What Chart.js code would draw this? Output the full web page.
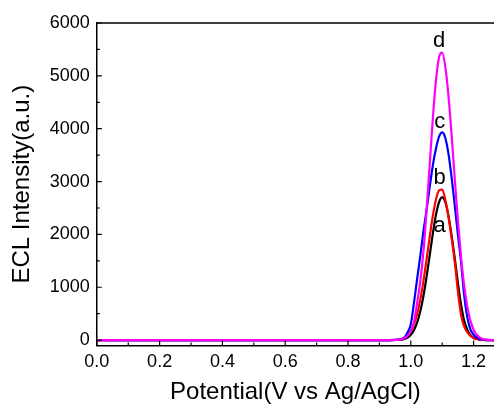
<!DOCTYPE html>
<html>
<head>
<meta charset="utf-8">
<script src="https://cdn.jsdelivr.net/npm/chart.js@4.4.0/dist/chart.umd.min.js"></script>
<style>
  html, body { margin: 0; padding: 0; background: #fff; }
</style>
</head>
<body>
<canvas id="eclChart" width="494" height="404"></canvas>
<script>
// --- data ---
const potential = [0.0, 0.1, 0.2, 0.3, 0.4, 0.5, 0.6, 0.7, 0.8, 0.9, 0.93,
  0.95, 0.96, 0.97, 0.98, 0.99, 1.00, 1.01, 1.02, 1.03, 1.04, 1.05, 1.06, 1.07, 1.08, 1.09,
  1.10, 1.11, 1.12, 1.13, 1.14, 1.15, 1.16, 1.17, 1.18, 1.19, 1.20, 1.21, 1.22, 1.23, 1.24,
  1.25, 1.26, 1.27];

const curveA = [0, 0, 0, 0, 0, 0, 0, 0, 0, 0, 0,
  2, 4, 10, 24, 50, 100, 189, 330, 540, 826, 1190, 1596, 2008, 2368, 2613,
  2700, 2610, 2351, 1978, 1552, 1083, 673, 365, 198, 95, 45, 20, 8, 3, 0,
  0, 0, 0];
const curveB = [0, 0, 0, 0, 0, 0, 0, 0, 0, 0, 0,
  4, 10, 22, 46, 91, 170, 297, 491, 761, 1108, 1514, 1944, 2345, 2657, 2835,
  2850, 2650, 2330, 1930, 1480, 920, 480, 260, 150, 80, 42, 20, 9, 4, 0,
  0, 0, 0];
const curveC = [0, 0, 0, 0, 0, 0, 0, 0, 0, 0, 0,
  3, 8, 20, 50, 150, 300, 700, 1150, 1580, 2050, 2450, 2890, 3300, 3620, 3850,
  3930, 3825, 3525, 3080, 2550, 2000, 1485, 850, 430, 205, 102, 50, 22, 10, 4,
  0, 0, 0];
const curveD = [0, 0, 0, 0, 0, 0, 0, 0, 0, 0, 0,
  2, 6, 15, 37, 83, 175, 344, 700, 1100, 1660, 2432, 3306, 4176, 4903, 5353,
  5440, 5170, 4620, 3879, 3058, 2266, 1575, 1031, 633, 365, 197, 101, 48, 22, 10,
  4, 0, 0];

const xTickValues = [0.0, 0.2, 0.4, 0.6, 0.8, 1.0, 1.2];
const xTickLabels = ['0.0', '0.2', '0.4', '0.6', '0.8', '1.0', '1.2'];
const xMinorTicks = [0.1, 0.3, 0.5, 0.7, 0.9, 1.1];
const yTickValues = [0, 1000, 2000, 3000, 4000, 5000, 6000];
const yTickLabels = ['0', '1000', '2000', '3000', '4000', '5000', '6000'];
const yMinorTicks = [500, 1500, 2500, 3500, 4500, 5500];

// curve letters, anchored at data coords (baseline of the letter)
const peakNames = ['a', 'b', 'c', 'd'];
const peakLabelX = [1.092, 1.092, 1.092, 1.090];
const peakLabelY = [2055, 2950, 4020, 5555];

const FONT = 'Arial, "Liberation Sans", sans-serif';

const toPoints = vals => potential.map((p, i) => ({ x: p, y: vals[i] }));

// inward ticks + top frame line + letters a-d
const frameTicks = {
  id: 'frameTicks',
  afterDatasetsDraw(chart) {
    const { ctx, chartArea: a, scales: { x, y } } = chart;
    ctx.save();
    ctx.strokeStyle = '#000';
    ctx.lineWidth = 1.5;
    ctx.beginPath();
    ctx.moveTo(a.left, a.top);
    ctx.lineTo(a.right, a.top);
    ctx.stroke();

    ctx.lineWidth = 1.2;
    ctx.beginPath();
    xTickValues.forEach(v => { const px = x.getPixelForValue(v); ctx.moveTo(px, a.bottom); ctx.lineTo(px, a.bottom - 5); });
    xMinorTicks.forEach(v => { const px = x.getPixelForValue(v); ctx.moveTo(px, a.bottom); ctx.lineTo(px, a.bottom - 3); });
    yTickValues.forEach(v => { const py = y.getPixelForValue(v); ctx.moveTo(a.left, py); ctx.lineTo(a.left + 5, py); });
    yMinorTicks.forEach(v => { const py = y.getPixelForValue(v); ctx.moveTo(a.left, py); ctx.lineTo(a.left + 3, py); });
    ctx.stroke();

    ctx.fillStyle = '#000';
    ctx.font = '22px ' + FONT;
    ctx.textAlign = 'center';
    ctx.textBaseline = 'alphabetic';
    peakNames.forEach((name, i) => {
      ctx.fillText(name, x.getPixelForValue(peakLabelX[i]), y.getPixelForValue(peakLabelY[i]));
    });
    ctx.restore();
  }
};

const ctx = document.getElementById('eclChart').getContext('2d');

new Chart(ctx, {
  type: 'line',
  data: {
    datasets: [
      { label: 'a', data: toPoints(curveA), borderColor: '#000000', order: 4 },
      { label: 'b', data: toPoints(curveB), borderColor: '#ff0000', order: 3 },
      { label: 'c', data: toPoints(curveC), borderColor: '#0000ff', order: 2 },
      { label: 'd', data: toPoints(curveD), borderColor: '#ff00ff', order: 1 }
    ]
  },
  options: {
    responsive: false,
    devicePixelRatio: 1,
    animation: false,
    layout: { padding: { left: 8, top: 23, right: 0, bottom: 0 } },
    elements: {
      point: { radius: 0 },
      line: { borderWidth: 2.2, cubicInterpolationMode: 'monotone', fill: false }
    },
    plugins: {
      legend: { display: false },
      tooltip: { enabled: false }
    },
    scales: {
      x: {
        type: 'linear',
        min: 0,
        max: 1.265,
        afterBuildTicks: scale => { scale.ticks = xTickValues.map(v => ({ value: v })); },
        grid: { display: false, drawTicks: false },
        border: { display: true, color: '#000', width: 1.5 },
        ticks: {
          padding: 5.5,
          color: '#000',
          font: { family: FONT, size: 18 },
          maxRotation: 0,
          callback: (v, i) => xTickLabels[i]
        },
        title: {
          display: true,
          text: 'Potential(V vs Ag/AgCl)',
          color: '#000',
          font: { family: FONT, size: 24, lineHeight: 1 },
          padding: { top: 2, bottom: 0 }
        }
      },
      y: {
        type: 'linear',
        min: -100,
        max: 6000,
        afterBuildTicks: scale => { scale.ticks = yTickValues.map(v => ({ value: v })); },
        grid: { display: false, drawTicks: false },
        border: { display: true, color: '#000', width: 1.5 },
        ticks: {
          padding: 7,
          color: '#000',
          font: { family: FONT, size: 18 },
          callback: (v, i) => yTickLabels[i]
        },
        title: {
          display: true,
          text: 'ECL Intensity(a.u.)',
          color: '#000',
          font: { family: FONT, size: 24 },
          padding: { top: 0, bottom: 6 }
        }
      }
    }
  },
  plugins: [frameTicks]
});
</script>
</body>
</html>
